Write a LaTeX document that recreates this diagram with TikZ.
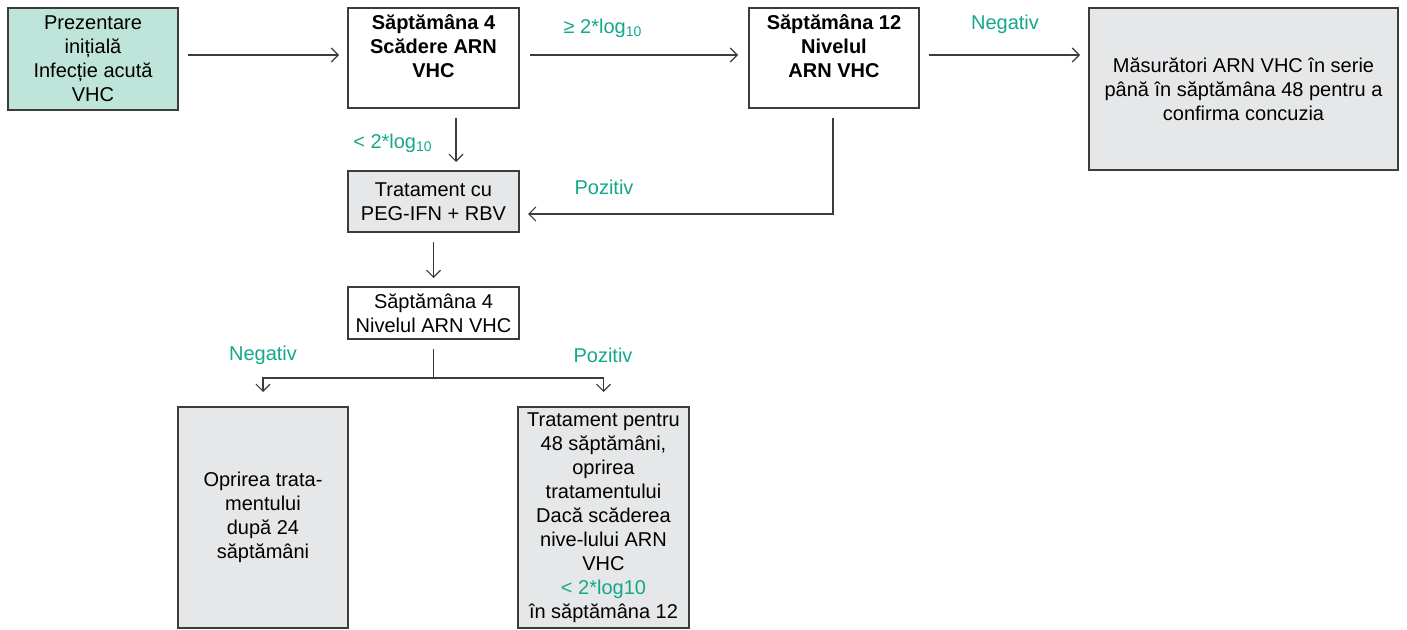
\documentclass[tikz,border=0pt]{standalone}
\usepackage{fontspec}
\setmainfont{Liberation Sans}
\usepackage{tikz}
\usetikzlibrary{arrows.meta}
\usetikzlibrary{positioning}
\definecolor{tealtxt}{RGB}{20,168,138}
\definecolor{tealfill}{RGB}{191,228,218}
\definecolor{grayfill}{RGB}{230,231,232}
\definecolor{edgegray}{RGB}{60,60,60}
\tikzstyle{box} = [rectangle, minimum width=85.5pt, inner sep=1pt, outer sep=0pt, align=center, draw=edgegray, line width=0.6pt, font=\fontsize{10}{12}\selectfont]
\tikzstyle{lbl} = [text=tealtxt, inner sep=0pt, font=\fontsize{10}{12}\selectfont]
\tikzstyle{flow} = [draw=edgegray, line width=0.6pt, -{Straight Barb[length=3.5pt,width=7pt]}, shorten <=5pt, shorten >=4.5pt]

\begin{document}
\begin{tikzpicture}[x=0.5pt, y=-0.5pt]
  \useasboundingbox (0,0) rectangle (1407,630);

  \node (start) [box, fill=tealfill, minimum width=85pt, minimum height=51pt] at (93,59) {Prezentare\\inițială\\Infecție acută\\VHC};
  \node (wk4) [box, minimum height=50pt, font=\fontsize{10}{12}\selectfont\bfseries] at (433.5,58) {Săptămâna 4\\Scădere ARN\\VHC\\[-4pt]\strut};
  \node (wk12) [box, minimum width=85pt, minimum height=50pt, font=\fontsize{10}{12}\selectfont\bfseries] at (834,58) {Săptămâna 12\\Nivelul\\ARN VHC\\[-4pt]\strut};
  \node (serial) [box, fill=grayfill, minimum width=154.5pt, minimum height=81pt] at (1243.5,89) {Măsurători ARN VHC în serie\\până în săptămâna 48 pentru a\\confirma concuzia};
  \node (treat) [box, fill=grayfill, minimum height=30.5pt] at (433.5,201.5) {Tratament cu\\PEG-IFN + RBV};
  \node (wk4b) [box, minimum height=26pt] at (433.5,313) {Săptămâna 4\\Nivelul ARN VHC};
  \node (stop) [box, fill=grayfill, minimum width=85pt, minimum height=110.5pt] at (263,517.5) {Oprirea trata-\\mentului\\după 24\\săptămâni};
  \node (long) [box, fill=grayfill, minimum height=110.5pt] at (603.5,517.5) {Tratament pentru\\48 săptămâni,\\oprirea\\tratamentului\\Dacă scăderea\\nive-lului ARN\\VHC\\\textcolor{tealtxt}{< 2*log10}\\în săptămâna 12};

  \coordinate (row) at (0,55);
  \coordinate (turn) at (833,214);
  \coordinate (split) at (433.5,378);

  \draw[flow] (start.east |- row) -- (wk4.west |- row);
  \draw[flow, shorten <=5.5pt, shorten >=5.5pt] (wk4.east |- row) -- (wk12.west |- row);
  \draw[flow] (wk12.east |- row) -- (serial.west |- row);
  \draw[flow] ([xshift=11.25pt]wk4.south) -- ([xshift=11.25pt]treat.north);
  \draw[flow] ([xshift=-0.5pt]wk12.south) -- (turn) -- (treat.east |- turn);
  \draw[flow] (treat) -- (wk4b);
  \draw[draw=edgegray, line width=0.6pt, shorten <=5pt] (wk4b.south) -- (split);
  \draw[flow, shorten <=0pt, shorten >=7.5pt] (split) -| (stop.north);
  \draw[flow, shorten <=0pt, shorten >=7.5pt] (split) -| (long.north);

  \node (up) [lbl] at (603,28) {≥ 2*log\textsubscript{10}};
  \node (neg1) [lbl] at (1005,24) {Negativ};
  \node (down) [lbl] at (393,143) {< 2*log\textsubscript{10}};
  \node (pos1) [lbl] at (604,187) {Pozitiv};
  \node (neg2) [lbl] at (263,355) {Negativ};
  \node (pos2) [lbl] at (603,355) {Pozitiv};
\end{tikzpicture}
\end{document}
